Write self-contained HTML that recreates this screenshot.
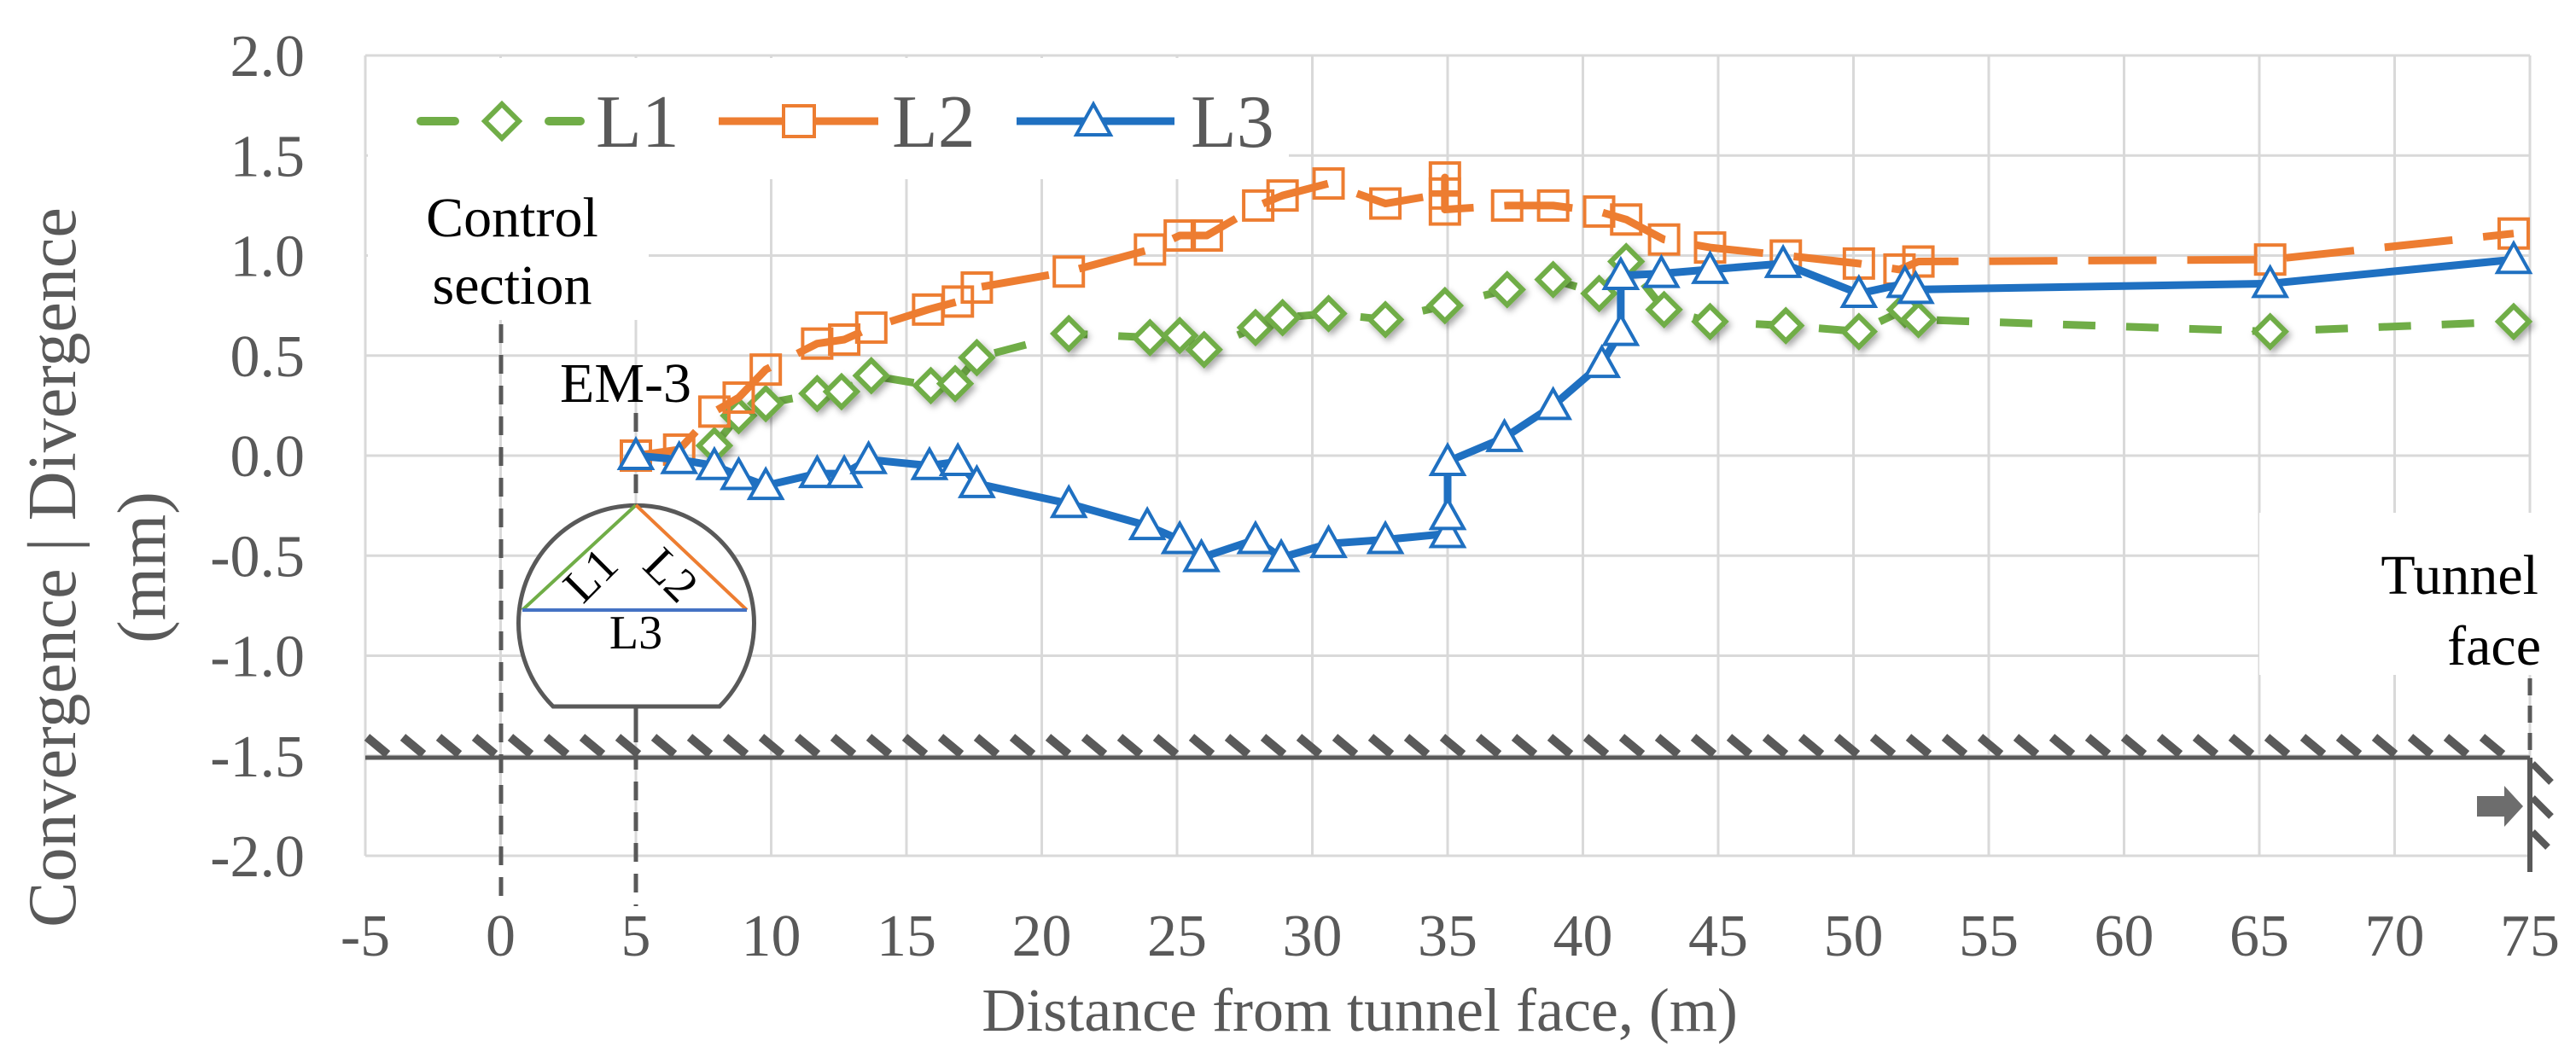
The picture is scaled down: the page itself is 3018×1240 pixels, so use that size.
<!DOCTYPE html>
<html><head><meta charset="utf-8"><style>
html,body{margin:0;padding:0;background:#fff;}
svg{display:block;}
svg text, svg tspan{font-family:"Liberation Serif","DejaVu Serif",serif !important;}
</style></head><body>
<svg id="chart" width="3018" height="1240" viewBox="0 0 3018 1240" xmlns="http://www.w3.org/2000/svg" font-family="Liberation Serif, DejaVu Serif, serif">
<defs>
<filter id="sh" x="-50%" y="-50%" width="200%" height="200%"><feDropShadow dx="3" dy="4" stdDeviation="4" flood-color="#000" flood-opacity="0.35"/></filter>
</defs>
<g id="grid"></g>
<g id="masks">
<rect x="431" y="68" width="1079" height="142" fill="#fff"/>
<rect x="431" y="210" width="329" height="165" fill="#fff"/>
<rect x="2647" y="601" width="345" height="190" fill="#fff"/>
</g>
<g id="annot">
<line x1="587" y1="380" x2="587" y2="1062" stroke="#595959" stroke-width="5" stroke-dasharray="22 14"/>
<line x1="745" y1="484" x2="745" y2="1062" stroke="#595959" stroke-width="5" stroke-dasharray="22 14"/>
<g>
<path d="M648,828 A138,138 0 1 1 843,828 Z" fill="#fff" stroke="#595959" stroke-width="5"/>
<line x1="612" y1="715" x2="745" y2="592" stroke="#70AD47" stroke-width="4"/>
<line x1="745" y1="592" x2="875" y2="715" stroke="#ED7D31" stroke-width="4"/>
<line x1="612" y1="715" x2="875" y2="715" stroke="#4472C4" stroke-width="4"/>
<text x="693" y="692" font-size="56" font-family="Liberation Serif, serif" text-anchor="middle" transform="rotate(-45 693 675)">L1</text>
<text x="785" y="692" font-size="56" font-family="Liberation Serif, serif" text-anchor="middle" transform="rotate(45 785 675)">L2</text>
<text x="745" y="760" font-size="56" font-family="Liberation Serif, serif" text-anchor="middle">L3</text>
</g>
<line x1="745" y1="828" x2="745" y2="870" stroke="#595959" stroke-width="5"/>
<g id="hatch"></g>
<line x1="428" y1="888" x2="2964" y2="888" stroke="#595959" stroke-width="5"/>
<line x1="2964" y1="795" x2="2964" y2="888" stroke="#595959" stroke-width="5" stroke-dasharray="20 12"/>
<line x1="2964" y1="888" x2="2964" y2="1022" stroke="#595959" stroke-width="6"/>
<path d="M2967,895 l22,22 M2967,935 l22,22 M2967,975 l18,18" stroke="#595959" stroke-width="8"/>
<path d="M2902,933 h32 v-12 l22,24 l-22,24 v-12 h-32 Z" fill="#6d6d6d"/>
<text font-size="66" font-family="Liberation Serif, serif" fill="#000" text-anchor="middle"><tspan x="600" y="277">Control</tspan><tspan x="600" y="356">section</tspan></text>
<text x="733" y="471" font-size="66" font-family="Liberation Serif, serif" text-anchor="middle">EM-3</text>
<text font-size="66" font-family="Liberation Serif, serif" text-anchor="end"><tspan x="2974" y="696">Tunnel</tspan><tspan x="2977" y="779">face</tspan></text>
</g>
<g id="series"></g>
<g id="axes">
<text x="1593" y="1208" font-size="72" font-family="Liberation Serif, serif" fill="#595959" text-anchor="middle">Distance from tunnel face, (m)</text>
<text font-size="80" font-family="Liberation Serif, serif" fill="#595959" text-anchor="middle" transform="translate(88,665) rotate(-90)"><tspan x="0" y="0">Convergence | Divergence</tspan><tspan x="0" y="105">(mm)</tspan></text>
</g>
<g id="legend">
<g>
<line x1="493" y1="142" x2="533" y2="142" stroke="#70AD47" stroke-width="10" stroke-linecap="round"/>
<line x1="643" y1="142" x2="680" y2="142" stroke="#70AD47" stroke-width="10" stroke-linecap="round"/>
<path d="M588,122 L608,142 L588,162 L568,142 Z" fill="#fff" stroke="#70AD47" stroke-width="6"/>
<text x="698" y="172" font-size="88" font-family="Liberation Serif, serif" fill="#595959">L1</text>
</g>
<g>
<line x1="842" y1="142" x2="1029" y2="142" stroke="#ED7D31" stroke-width="9"/>
<rect x="918" y="124" width="36" height="36" fill="#fff" stroke="#ED7D31" stroke-width="4"/>
<text x="1045" y="172" font-size="88" font-family="Liberation Serif, serif" fill="#595959">L2</text>
</g>
<g>
<line x1="1191" y1="142" x2="1376" y2="142" stroke="#1F70C1" stroke-width="9"/>
<path d="M1281,122 L1301,158 L1261,158 Z" fill="#fff" stroke="#1F70C1" stroke-width="4"/>
<text x="1395" y="172" font-size="88" font-family="Liberation Serif, serif" fill="#595959">L3</text>
</g>
</g>
</svg>
<script>
const xTicks = [-5,0,5,10,15,20,25,30,35,40,45,50,55,60,65,70,75];
const yTicks = [2.0,1.5,1.0,0.5,0.0,-0.5,-1.0,-1.5,-2.0];
const yTickLabels = ["2.0","1.5","1.0","0.5","0.0","-0.5","-1.0","-1.5","-2.0"];
const l1X = [7.9,8.8,9.8,11.7,12.6,13.7,15.9,16.8,17.6,21.0,24.0,25.1,26.0,27.9,28.9,30.6,32.7,34.9,37.2,38.9,40.6,41.6,43.0,44.7,47.5,50.2,51.9,52.4,65.4,74.4];
const l1Y = [0.05,0.20,0.26,0.31,0.32,0.40,0.35,0.36,0.49,0.61,0.59,0.60,0.53,0.64,0.69,0.71,0.68,0.75,0.83,0.88,0.81,0.97,0.73,0.67,0.65,0.62,0.73,0.68,0.62,0.67];
const l2X = [5.0,6.6,7.9,8.8,9.8,11.7,12.7,13.7,15.8,16.9,17.6,21.0,24.0,25.1,26.1,28.0,28.9,30.6,32.7,34.9,34.9,34.9,37.2,38.9,40.6,41.6,43.0,44.7,47.5,50.2,51.7,52.4,65.4,74.4];
const l2Y = [0.0,0.03,0.22,0.29,0.43,0.56,0.58,0.64,0.73,0.77,0.84,0.92,1.03,1.10,1.10,1.25,1.30,1.36,1.26,1.31,1.39,1.23,1.25,1.25,1.22,1.18,1.08,1.04,1.00,0.96,0.93,0.97,0.98,1.11];
const l3X = [5.0,6.6,7.9,8.8,9.8,11.7,12.7,13.6,15.85,16.9,17.6,21.0,23.9,25.1,25.9,27.9,28.85,30.6,32.7,35.0,35.0,35.0,37.1,38.9,40.7,41.4,41.4,42.9,44.7,47.4,50.2,51.9,52.3,65.4,74.4];
const l3Y = [0.0,-0.02,-0.05,-0.10,-0.15,-0.09,-0.09,-0.02,-0.05,-0.03,-0.14,-0.24,-0.35,-0.42,-0.51,-0.42,-0.51,-0.44,-0.42,-0.39,-0.30,-0.03,0.09,0.25,0.46,0.62,0.90,0.91,0.93,0.96,0.81,0.86,0.83,0.86,0.98];

const NS = "http://www.w3.org/2000/svg";
const X0 = 428, X1 = 2964, Y0 = 1003, Y1 = 65;
function sx(v){ return X0 + (v + 5) / 80 * (X1 - X0); }
function sy(v){ return Y0 - (v + 2) / 4 * (Y0 - Y1); }
function mk(tag, attrs, parent){
  const e = document.createElementNS(NS, tag);
  for (const k in attrs) e.setAttribute(k, attrs[k]);
  parent.appendChild(e);
  return e;
}
const grid = document.getElementById('grid');
const axes = document.getElementById('axes');
xTicks.forEach((t) => {
  const l = mk('line', {x1: sx(t), x2: sx(t), y1: Y1, y2: Y0, stroke: '#d9d9d9', 'stroke-width': 3}, grid);
  
  
  const tx = mk('text', {x: sx(t), y: 1120, 'font-size': 70, 'font-family': 'Liberation Serif, serif', fill: '#595959', 'text-anchor': 'middle'}, axes);
  tx.textContent = String(t);
  
  
});
yTicks.forEach((t, i) => {
  const l = mk('line', {x1: X0, x2: X1, y1: sy(t), y2: sy(t), stroke: '#d9d9d9', 'stroke-width': 3}, grid);
  
  
  const tx = mk('text', {x: 357, y: sy(t) + 24, 'font-size': 70, 'font-family': 'Liberation Serif, serif', fill: '#595959', 'text-anchor': 'end'}, axes);
  tx.textContent = yTickLabels[i];
  
  
});

const hatch = document.getElementById('hatch');
for (let x = 430; x < 2950; x += 42) {
  mk('line', {x1: x, y1: 864, x2: x + 24, y2: 884, stroke: '#595959', 'stroke-width': 10}, hatch);
}

const series = document.getElementById('series');
function pts(xs, ys){ return xs.map((v, i) => sx(v) + ',' + sy(ys[i])).join(' '); }
const g1 = mk('g', {}, series);


mk('polyline', {points: pts(l1X, l1Y), fill: 'none', stroke: '#70AD47', 'stroke-width': 9, 'stroke-dasharray': '38 36', 'stroke-linejoin': 'round'}, g1);
const g2 = mk('g', {}, series);


mk('polyline', {points: pts(l2X, l2Y), fill: 'none', stroke: '#ED7D31', 'stroke-width': 9, 'stroke-dasharray': '80 36', 'stroke-linejoin': 'round'}, g2);
const g3 = mk('g', {}, series);


mk('polyline', {points: pts(l3X, l3Y), fill: 'none', stroke: '#1F70C1', 'stroke-width': 9, 'stroke-linejoin': 'round'}, g3);

l2X.forEach((v, i) => {
  const r = mk('rect', {x: sx(v) - 17, y: sy(l2Y[i]) - 17, width: 34, height: 34, fill: 'none', stroke: '#ED7D31', 'stroke-width': 4}, g2);
  
  
});
l1X.forEach((v, i) => {
  const cx = sx(v), cy = sy(l1Y[i]);
  const d = mk('path', {d: `M${cx},${cy-18} L${cx+18},${cy} L${cx},${cy+18} L${cx-18},${cy} Z`, fill: '#fff', stroke: '#70AD47', 'stroke-width': 6, filter: 'url(#sh)'}, g1);
  
  
});
l3X.forEach((v, i) => {
  const cx = sx(v), cy = sy(l3Y[i]);
  const d = mk('path', {d: `M${cx},${cy-19} L${cx+19},${cy+15} L${cx-19},${cy+15} Z`, fill: '#fff', stroke: '#1F70C1', 'stroke-width': 4}, g3);
  
  
});
</script>
</body></html>
